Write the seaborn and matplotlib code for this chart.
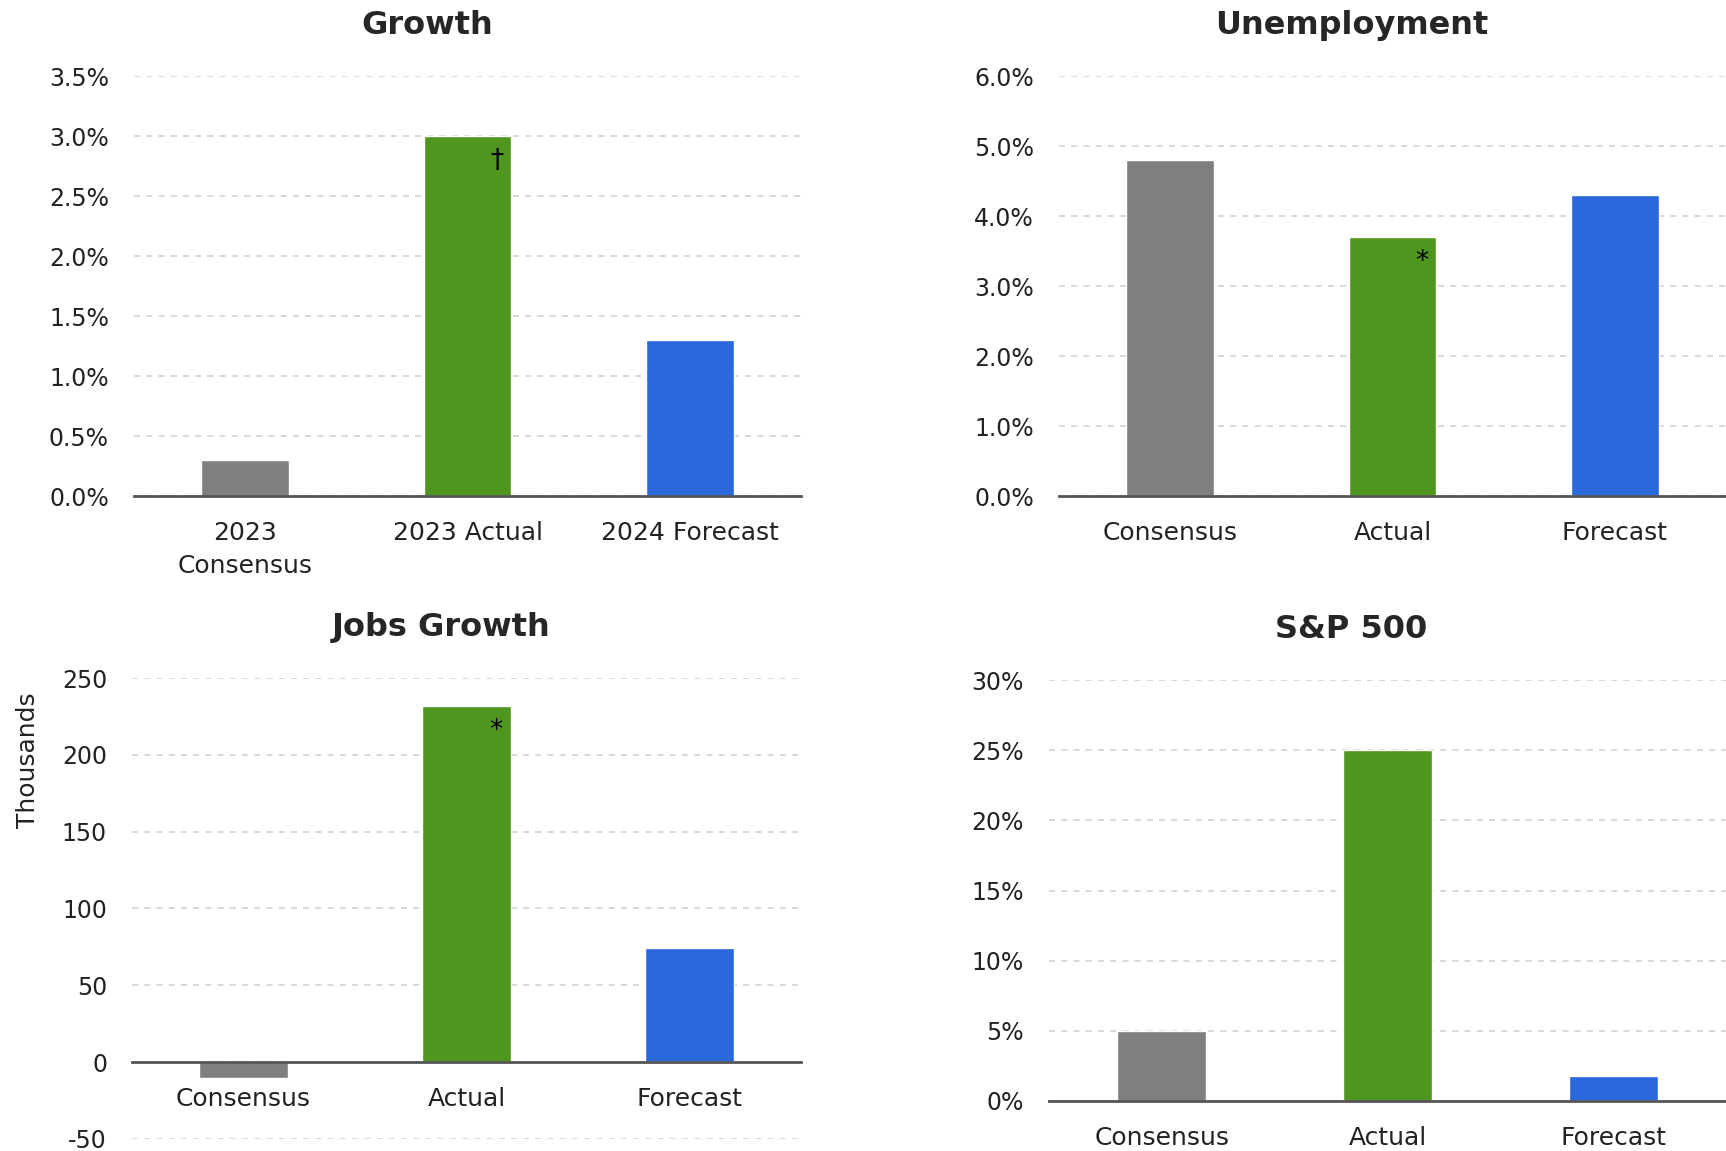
import matplotlib
matplotlib.use("Agg")
import matplotlib.pyplot as plt
import seaborn as sns
import pandas as pd
from matplotlib.ticker import FuncFormatter

sns.set_theme(style="white")
plt.rcParams['font.family'] = ['DejaVu Sans']

# ---- data ----
colors = ["#7f7f7f", "#4f961f", "#2b68dc"]

growth_cats = ["2023\nConsensus", "2023 Actual", "2024 Forecast"]
growth_vals = [0.3, 3.0, 1.3]
growth_marks = ["", "\u2020", ""]

unemp_cats = ["Consensus", "Actual", "Forecast"]
unemp_vals = [4.8, 3.7, 4.3]
unemp_marks = ["", "*", ""]

jobs_cats = ["Consensus", "Actual", "Forecast"]
jobs_vals = [-10, 232, 74]
jobs_marks = ["", "*", ""]

sp_cats = ["Consensus", "Actual", "Forecast"]
sp_vals = [5.0, 25.0, 1.8]
sp_marks = ["", "", ""]

W, H = 1726, 1151
fig = plt.figure(figsize=(W / 100, H / 100), dpi=100)

def frac(left, right, top, bottom):
    return [left / W, 1 - bottom / H, (right - left) / W, (bottom - top) / H]

panels = [
    dict(title="Growth", cats=growth_cats, vals=growth_vals, marks=growth_marks,
         rect=frac(134, 801, 76, 496), ylim=(0, 3.5), step=0.5,
         fmt=lambda v, p: f"{v:.1f}%", tx=0.439),
    dict(title="Unemployment", cats=unemp_cats, vals=unemp_vals, marks=unemp_marks,
         rect=frac(1059, 1726, 76, 496), ylim=(0, 6.0), step=1.0,
         fmt=lambda v, p: f"{v:.1f}%", tx=0.439),
    dict(title="Jobs Growth", cats=jobs_cats, vals=jobs_vals, marks=jobs_marks,
         rect=frac(132, 801, 678, 1139), ylim=(-50, 250), step=50,
         fmt=lambda v, p: f"{v:.0f}", tx=0.462, ylabel="Thousands"),
    dict(title="S&P 500", cats=sp_cats, vals=sp_vals, marks=sp_marks,
         rect=frac(1049, 1726, 680, 1101), ylim=(0, 30), step=5,
         fmt=lambda v, p: f"{v:.0f}%", tx=0.446),
]

for pnl in panels:
    ax = fig.add_axes(pnl["rect"])
    df = pd.DataFrame({"cat": pnl["cats"], "val": pnl["vals"]})
    sns.barplot(data=df, x="cat", y="val", hue="cat", palette=colors,
                width=0.395, legend=False, ax=ax, saturation=1)
    lo, hi = pnl["ylim"]
    ax.set_ylim(lo, hi)
    ax.set_xlim(-0.5, 2.5)
    ticks = []
    t = lo
    while t <= hi + 1e-9:
        ticks.append(t)
        t += pnl["step"]
    ax.set_yticks(ticks)
    ax.yaxis.set_major_formatter(FuncFormatter(pnl["fmt"]))
    ax.yaxis.grid(True, linestyle=(0, (4, 4)), color="#d0d0d0", linewidth=1.1)
    ax.set_axisbelow(True)
    for s in ["top", "right", "left"]:
        ax.spines[s].set_visible(False)
    ax.spines["bottom"].set_position(("data", 0))
    ax.spines["bottom"].set_color("#555555")
    ax.spines["bottom"].set_linewidth(2)
    ax.tick_params(axis="x", length=0, pad=18, labelsize=18, labelcolor="#222222")
    for lbl in ax.get_xticklabels():
        lbl.set_linespacing(1.45)
    ax.tick_params(axis="y", length=0, pad=18, labelsize=17, labelcolor="#222222")
    ax.set_xlabel("")
    ax.set_ylabel(pnl.get("ylabel", ""), fontsize=18, color="#222222")
    if pnl.get("ylabel"):
        ax.yaxis.set_label_coords(-0.137, 0.822)
    ax.set_title(pnl["title"], fontsize=23, fontweight="bold", pad=30, x=pnl["tx"])
    for i, (v, m) in enumerate(zip(pnl["vals"], pnl["marks"])):
        if m:
            ax.annotate(m, xy=(i + 0.13, v), xytext=(0, -18), textcoords="offset points",
                        ha="center", va="center", fontsize=19, color="black")

fig.savefig("out.png", dpi=100)
